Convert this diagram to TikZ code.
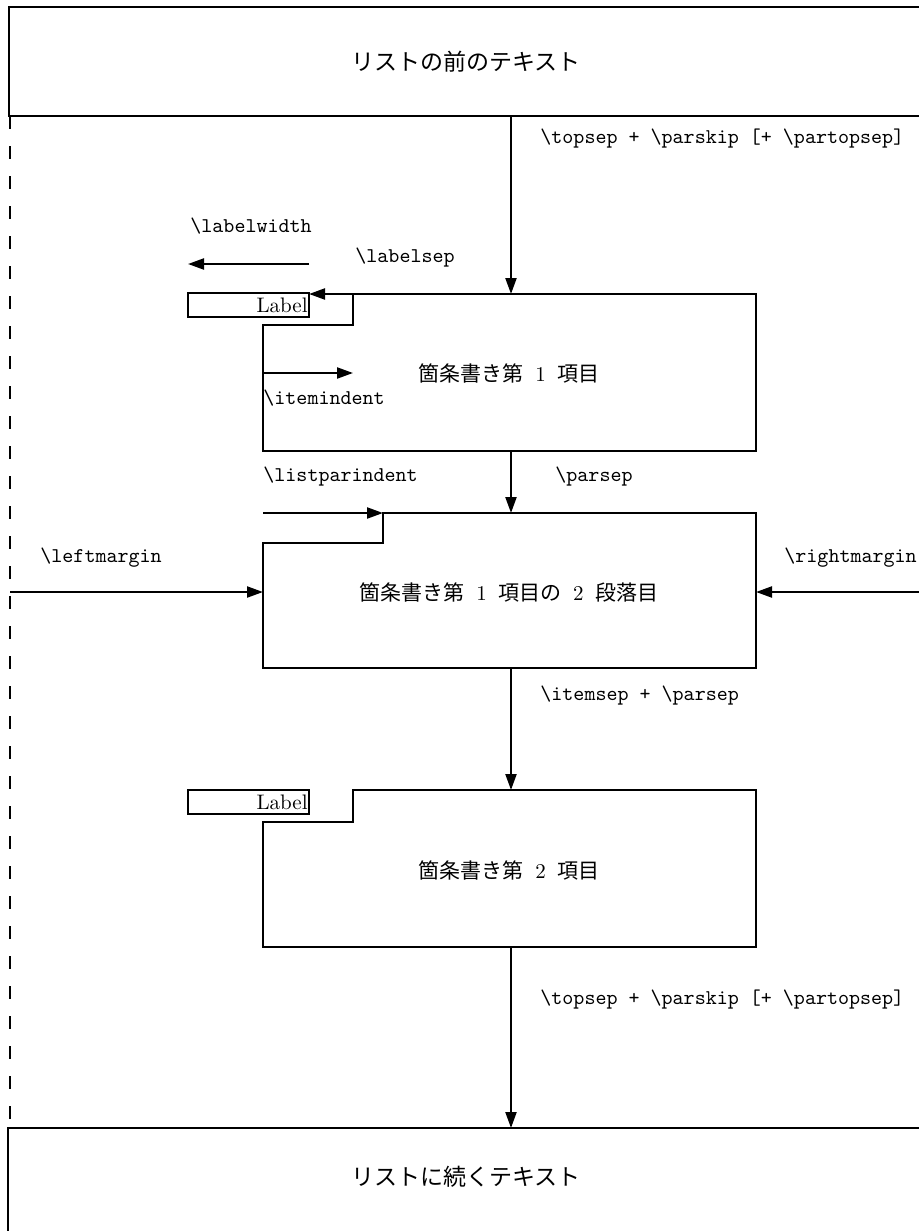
\documentclass[tikz,border=0pt]{standalone}
\usepackage{fontspec}
\newfontfamily\cjk{Noto Sans CJK JP}
\usetikzlibrary{arrows.meta}
\newcommand{\jsp}{\hspace{0.55em}}
\tikzset{
  box/.style={line width=1.1pt, line join=miter},
  dim/.style={line width=1.1pt, -{Triangle[length=8pt,width=5.5pt]}},
  tt/.style={font=\fontsize{10.5}{12}\selectfont\ttfamily, inner sep=0pt},
  jp/.style={font=\fontsize{10.5}{12}\selectfont\cjk, inner sep=0pt},
  jpwide/.style={font=\fontsize{11.5}{13}\selectfont\cjk, inner sep=0pt},
  lbl/.style={font=\fontsize{10.5}{12}\selectfont, inner sep=0pt},
  marginline/.style={line width=0.6pt, dash pattern=on 6.5pt off 8.5pt},
}
\begin{document}
\begin{tikzpicture}[x=0.5pt, y=-0.5pt]
\useasboundingbox (0,0) rectangle (919,1231);
\fill[white] (0,0) rectangle (919,1231);

% margin line
\draw[marginline] (10,116) -- (10,1128);

% top and bottom text boxes
\draw[box] (9,7) rectangle (940,116);
\node[jpwide] (before) at (466,62) {リストの前のテキスト};
\draw[box] (8,1128) rectangle (940,1260);
\node[jpwide] (after) at (466,1177) {リストに続くテキスト};

% item 1
\draw[box] (353,294) -- (756,294) -- (756,451) -- (263,451) -- (263,325) -- (353,325) -- cycle;
\node[jp] (item1) at (509,373) {箇条書き第\jsp{\rmfamily 1}\jsp 項目};
\draw[box] (188,293) rectangle (309,317);
\node[lbl, anchor=east] (label1) at (308,305) {Label};

% paragraph 2
\draw[box] (383,513) -- (756,513) -- (756,668) -- (263,668) -- (263,543) -- (383,543) -- cycle;
\node[jp] (para2) at (509,592) {箇条書き第\jsp{\rmfamily 1}\jsp 項目の\jsp{\rmfamily 2}\jsp 段落目};

% item 2
\draw[box] (353,790) -- (756,790) -- (756,947) -- (263,947) -- (263,822) -- (353,822) -- cycle;
\node[jp] (item2) at (509,870) {箇条書き第\jsp{\rmfamily 2}\jsp 項目};
\draw[box] (188,790) rectangle (309,814);
\node[lbl, anchor=east] (label2) at (308,802) {Label};

% coordinates for dimension arrows
\coordinate (a1s) at (511,116);  \coordinate (a1e) at (511,294);
\coordinate (lsS) at (353,294);  \coordinate (lsE) at (309,294);
\coordinate (lwS) at (309,264);  \coordinate (lwE) at (188,264);
\coordinate (iiS) at (263,373);  \coordinate (iiE) at (353,373);
\coordinate (psS) at (511,451);  \coordinate (psE) at (511,513);
\coordinate (lpS) at (263,513);  \coordinate (lpE) at (383,513);
\coordinate (lmS) at (10,592);   \coordinate (lmE) at (263,592);
\coordinate (rmS) at (925,592);  \coordinate (rmE) at (756,592);
\coordinate (isS) at (511,668);  \coordinate (isE) at (511,790);
\coordinate (a2s) at (511,947);  \coordinate (a2e) at (511,1128);

\draw[dim] (a1s) -- (a1e);
\draw[dim] (lsS) -- (lsE);
\draw[dim] (lwS) -- (lwE);
\draw[dim] (iiS) -- (iiE);
\draw[dim] (psS) -- (psE);
\draw[dim] (lpS) -- (lpE);
\draw[dim] (lmS) -- (lmE);
\draw[dim] (rmS) -- (rmE);
\draw[dim] (isS) -- (isE);
\draw[dim] (a2s) -- (a2e);

% dimension labels
\node[tt, anchor=west] (topsep1) at (540,139) {\textbackslash{}topsep + \textbackslash{}parskip [+ \textbackslash{}partopsep]};
\node[tt, anchor=west] (labelwidth) at (190,226) {\textbackslash{}labelwidth};
\node[tt, anchor=west] (labelsep) at (355,258) {\textbackslash{}labelsep};
\node[tt, anchor=west] (itemindent) at (263,398) {\textbackslash{}itemindent};
\node[tt, anchor=west] (listparindent) at (263,477) {\textbackslash{}listparindent};
\node[tt, anchor=west] (parsep) at (555,477) {\textbackslash{}parsep};
\node[tt, anchor=west] (leftmargin) at (40,558) {\textbackslash{}leftmargin};
\node[tt, anchor=west] (rightmargin) at (784,558) {\textbackslash{}rightmargin};
\node[tt, anchor=west] (itemsep) at (540,696) {\textbackslash{}itemsep + \textbackslash{}parsep};
\node[tt, anchor=west] (topsep2) at (540,1000) {\textbackslash{}topsep + \textbackslash{}parskip [+ \textbackslash{}partopsep]};
\end{tikzpicture}
\end{document}
